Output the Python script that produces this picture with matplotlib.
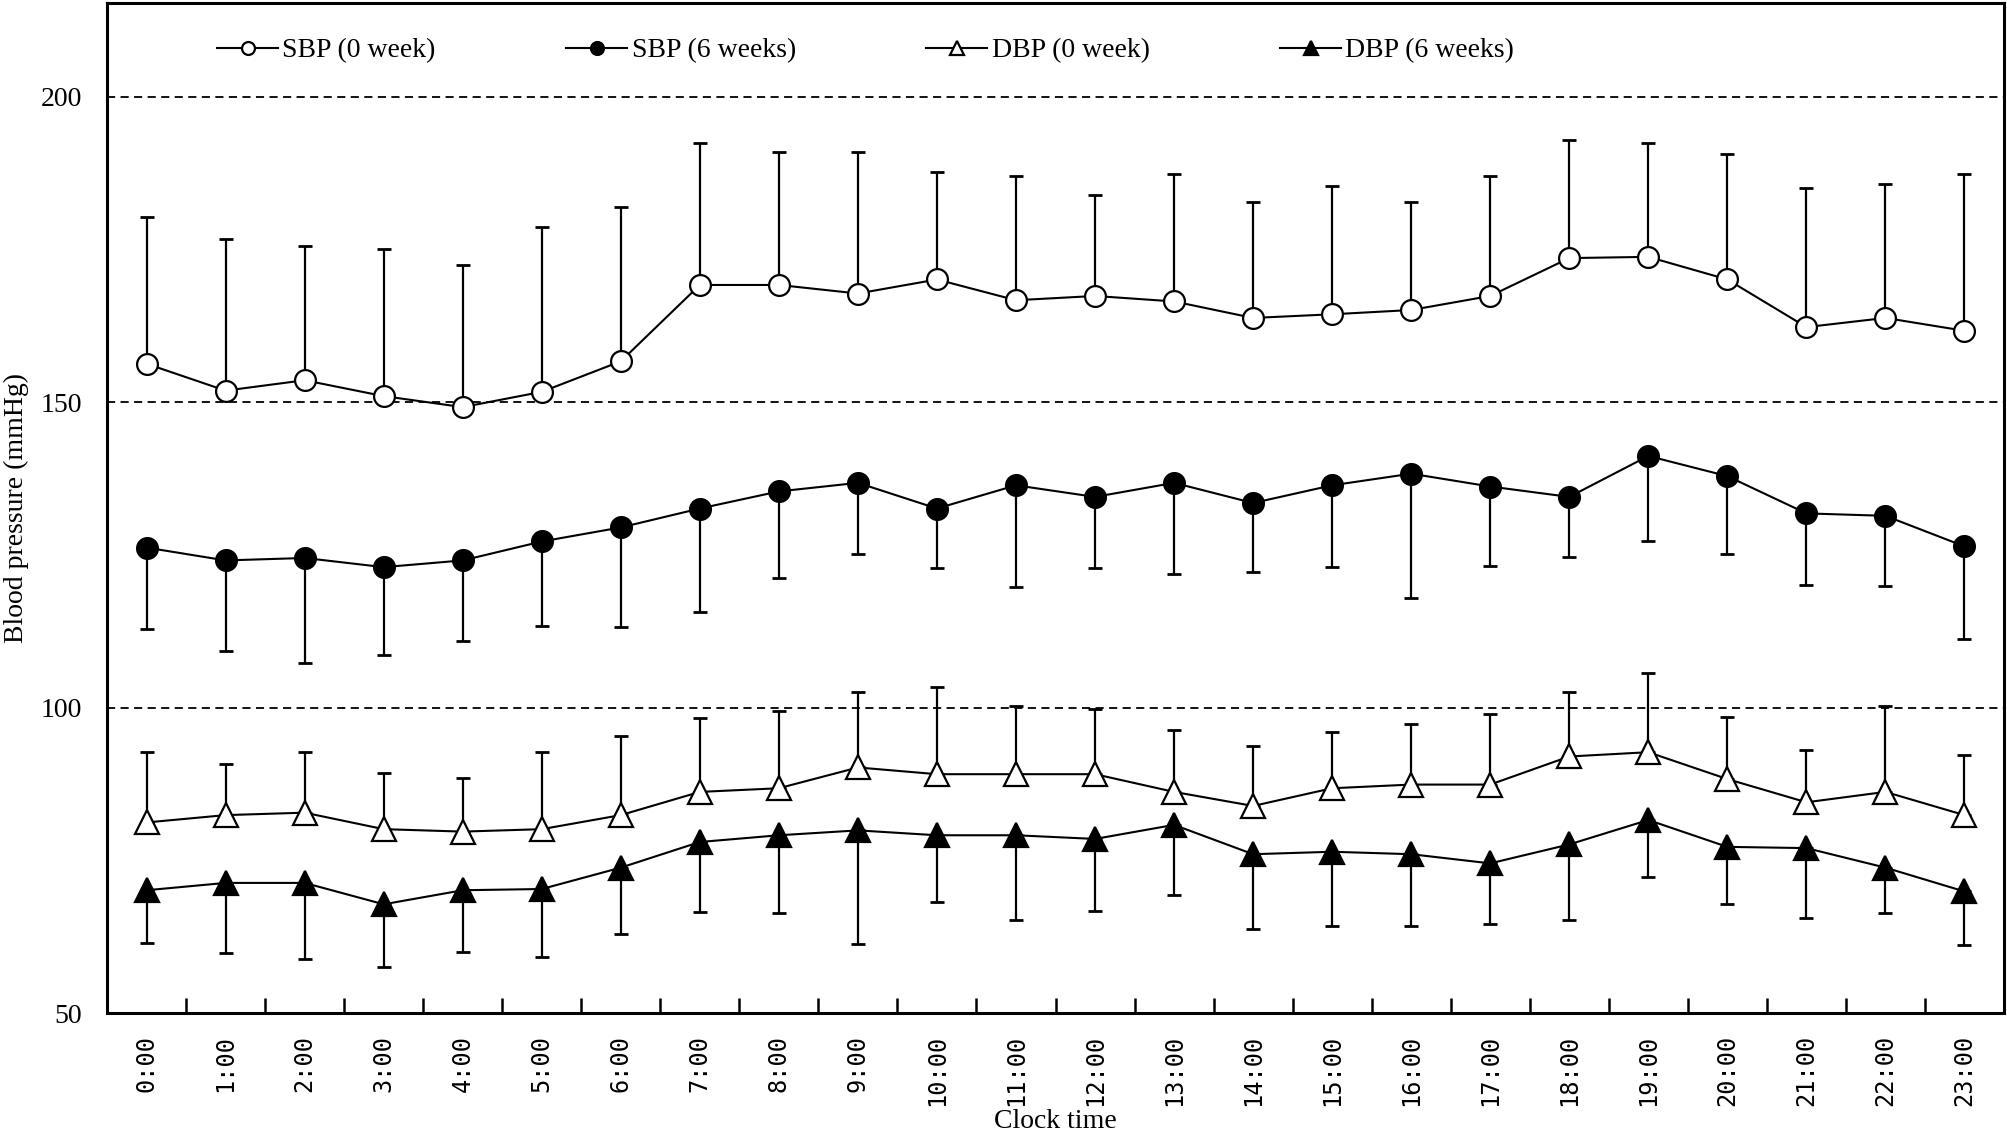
import numpy as np
import matplotlib.pyplot as plt

hours = ["0:00", "1:00", "2:00", "3:00", "4:00", "5:00", "6:00", "7:00",
         "8:00", "9:00", "10:00", "11:00", "12:00", "13:00", "14:00", "15:00",
         "16:00", "17:00", "18:00", "19:00", "20:00", "21:00", "22:00", "23:00"]

# means and SD (mmHg)
sbp0 = [156.3, 151.9, 153.6, 151.0, 149.2, 151.7, 156.7, 169.2, 169.2, 167.8, 170.1, 166.7,
        167.4, 166.5, 163.8, 164.4, 165.1, 167.4, 173.6, 173.8, 170.1, 162.3, 163.8, 161.7]
sbp0_sd = [24.0, 24.9, 21.9, 24.1, 23.2, 27.0, 25.3, 23.3, 21.8, 23.2, 17.6, 20.3,
           16.5, 20.9, 19.0, 21.0, 17.7, 19.6, 19.3, 18.7, 20.5, 22.8, 22.0, 25.7]

sbp6 = [126.2, 124.1, 124.5, 123.0, 124.1, 127.2, 129.5, 132.6, 135.4, 136.8, 132.6, 136.4,
        134.5, 136.8, 133.5, 136.4, 138.3, 136.2, 134.5, 141.2, 137.9, 131.8, 131.4, 126.4]
sbp6_sd = [13.4, 14.9, 17.2, 14.4, 13.2, 13.8, 16.3, 16.9, 14.1, 11.7, 9.8, 16.7,
           11.7, 15.0, 11.3, 13.4, 20.3, 13.0, 9.8, 14.0, 12.8, 11.7, 11.5, 15.1]

dbp0 = [81.2, 82.4, 82.8, 80.1, 79.7, 80.1, 82.4, 86.2, 86.8, 90.2, 89.1, 89.1,
        89.1, 86.2, 83.9, 86.8, 87.4, 87.4, 92.0, 92.7, 88.3, 84.5, 86.2, 82.4]
dbp0_sd = [11.5, 8.4, 9.9, 9.2, 8.8, 12.6, 13.0, 12.1, 12.6, 12.3, 14.2, 11.1,
           10.7, 10.2, 9.8, 9.2, 9.9, 11.6, 10.5, 12.9, 10.2, 8.6, 14.0, 9.9]

dbp6 = [70.1, 71.3, 71.3, 67.8, 70.1, 70.3, 73.8, 78.0, 79.1, 79.9, 79.1, 79.1,
        78.5, 80.8, 76.0, 76.4, 76.0, 74.5, 77.6, 81.6, 77.2, 77.0, 73.8, 69.9]
dbp6_sd = [8.6, 11.5, 12.5, 10.3, 10.1, 11.1, 10.9, 11.5, 12.8, 18.6, 10.9, 13.8,
           11.8, 11.4, 12.2, 12.2, 11.8, 9.9, 12.3, 9.4, 9.3, 11.5, 7.5, 8.8]

plt.rcParams['font.family'] = ['Liberation Serif', 'DejaVu Serif']

fig = plt.figure(figsize=(20.08, 11.34), dpi=100)
ax = fig.add_axes([0.0533, 0.1067, 0.9447, 0.8903])

x = np.arange(len(hours))
zero = np.zeros(len(hours))

# (values, sd, up?, marker, face, label)
series = [
    (sbp0, sbp0_sd, True, 'o', 'white', 'SBP (0 week)'),
    (sbp6, sbp6_sd, False, 'o', 'black', 'SBP (6 weeks)'),
    (dbp0, dbp0_sd, True, '^', 'white', 'DBP (0 week)'),
    (dbp6, dbp6_sd, False, '^', 'black', 'DBP (6 weeks)'),
]

handles = []
for vals, sd, up, mk, face, lab in series:
    sd = np.array(sd)
    err = [zero, sd] if up else [sd, zero]
    ax.errorbar(x, vals, yerr=err, fmt='none', ecolor='black', elinewidth=1.6,
                capsize=5, capthick=2, zorder=2)
    ms = 15 if mk == 'o' else 17
    line, = ax.plot(x, vals, color='black', lw=1.5, marker=mk, ms=ms,
                    mfc=face, mec='black', mew=1.6, label=lab, zorder=3)
    handles.append(line)

for g in [100, 150, 200]:
    ax.axhline(g, color='black', lw=1.3, ls=(0, (4.5, 3)), zorder=1)

ax.set_xlim(-0.5, 23.5)
ax.set_ylim(50, 215.3)
ax.set_yticks([50, 100, 150, 200])
ax.tick_params(axis='y', length=0, pad=18, labelsize=20)

ax.set_xticks(x)
ax.set_xticklabels(hours, rotation=90, family='DejaVu Sans Mono', fontsize=17)
ax.set_xticks(x[:-1] + 0.5, minor=True)
ax.tick_params(axis='x', which='major', length=0, pad=16)
ax.tick_params(axis='x', which='minor', direction='in', length=11, width=1.8)

for s in ax.spines.values():
    s.set_linewidth(2.2)

ax.set_ylabel("Blood pressure (mmHg)", fontsize=20)
ax.yaxis.set_label_coords(-0.041, 0.5)
ax.set_xlabel("Clock time", fontsize=20)
ax.xaxis.set_label_coords(0.5, -0.095)

ax.legend(handles=handles, loc='center left', bbox_to_anchor=(0.058, 0.953), ncol=4,
          frameon=False, fontsize=20, markerscale=0.62, handlelength=2.2,
          handletextpad=0.15, columnspacing=4.7, borderpad=0, borderaxespad=0)

fig.savefig("out.png", dpi=100, facecolor='white')
